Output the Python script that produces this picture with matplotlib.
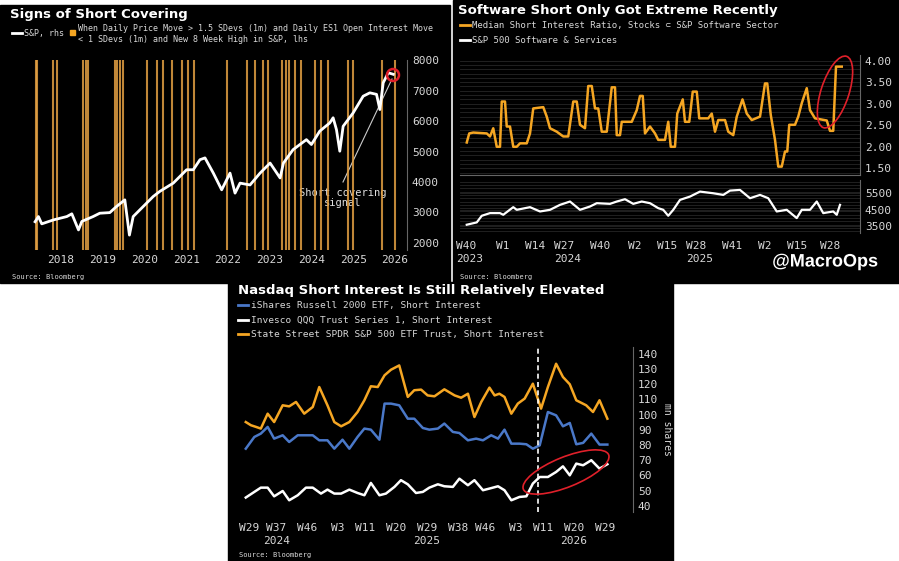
import numpy as np
import matplotlib.pyplot as plt
import matplotlib.patheffects as pe
from matplotlib.patches import Ellipse, Rectangle

# ---- panel 1: S&P with short covering signals ----
spx_year = [2017.88, 2017.96, 2018.04, 2018.32, 2018.64, 2018.76, 2018.92, 2019.00, 2019.27,
            2019.43, 2019.67, 2019.83, 2020.03, 2020.14, 2020.23, 2020.55, 2020.71, 2020.87,
            2021.19, 2021.51, 2021.67, 2021.83, 2021.95, 2022.15, 2022.35, 2022.55, 2022.67,
            2022.79, 2023.03, 2023.27, 2023.51, 2023.75, 2023.83, 2024.06, 2024.38, 2024.50,
            2024.70, 2024.94, 2025.02, 2025.10, 2025.18, 2025.26, 2025.50, 2025.74, 2025.90,
            2026.06, 2026.14, 2026.22, 2026.34, 2026.46]
spx_val = [2690, 2860, 2620, 2750, 2860, 2950, 2420, 2700, 2860, 2970, 2990, 3190, 3410, 2250,
           2860, 3300, 3520, 3690, 3960, 4400, 4400, 4730, 4790, 4290, 3740, 4290, 3630, 3960,
           3900, 4290, 4620, 4130, 4620, 5060, 5390, 5230, 5670, 5940, 6110, 5720, 5010, 5830,
           6270, 6820, 6930, 6880, 6380, 7260, 7590, 7540]
signal_year = [2017.90, 2017.93, 2018.30, 2018.41, 2019.02, 2019.10, 2019.15, 2019.79, 2019.85,
               2019.91, 2019.98, 2020.55, 2020.79, 2020.95, 2021.15, 2021.41, 2021.55, 2021.69,
               2022.47, 2022.95, 2023.15, 2023.35, 2023.47, 2023.79, 2023.88, 2023.97, 2024.10,
               2024.26, 2024.58, 2024.74, 2024.90, 2025.38, 2025.49, 2026.18, 2026.50]
p1_years = list(range(2018, 2027))
p1_yticks = [2000, 3000, 4000, 5000, 6000, 7000, 8000]

# ---- panel 2: software short interest ----
si_week = [-1.3, -0.3, 1.3, 6.7, 8, 9.3, 10.7, 12, 12.7, 14, 14.7, 16, 17.3, 18.7, 20, 22.7, 24,
           25.3, 29.3, 30.7, 32, 34.7, 37.3, 39.3, 41.3, 42.7, 44, 46, 47.3, 48.7, 50, 51.3, 52.7,
           54.7, 56.7, 58, 58.7, 60, 60.7, 64.7, 66.7, 68, 69.1, 70, 72, 74, 75.3, 78, 79.3, 80.3,
           82, 82.9, 85.1, 86, 87.7, 89.1, 90.7, 91.7, 95.3, 96.7, 98, 99.3, 102, 103.3, 105.3,
           106.7, 109, 110.7, 112.7, 116, 118, 118.9, 120.3, 122, 123.3, 124.7, 126, 126.9, 127.7,
           130, 131.3, 132.7, 134.7, 136, 138, 142.7, 144, 145.3, 146.4, 148.7]
si_val = [2.10, 2.31, 2.33, 2.31, 2.24, 2.43, 2.00, 2.00, 3.05, 3.05, 2.47, 2.47, 2.00, 2.00, 2.08,
          2.08, 2.31, 2.89, 2.92, 2.70, 2.43, 2.35, 2.24, 2.24, 3.05, 3.05, 2.51, 2.43, 3.41, 3.41,
          2.89, 2.89, 2.35, 2.35, 3.38, 3.38, 2.27, 2.27, 2.58, 2.58, 2.85, 3.18, 3.18, 2.31, 2.47,
          2.31, 2.16, 2.16, 2.58, 2.00, 2.00, 2.77, 3.10, 2.58, 2.58, 3.28, 3.28, 2.66, 2.66, 2.77,
          2.35, 2.62, 2.62, 2.35, 2.27, 2.70, 3.10, 2.77, 2.62, 2.70, 3.47, 3.47, 2.74, 2.16, 1.54,
          1.54, 1.89, 1.89, 2.51, 2.51, 2.70, 3.01, 3.36, 2.85, 2.66, 2.61, 2.37, 2.37, 3.86, 3.86]
sw_week = [-1.3, 2.7, 4.7, 8, 12, 13.3, 17.3, 18.7, 24, 28, 32, 36, 40, 44, 48, 50.7, 56, 58.7, 62,
           65.3, 68.7, 72, 75.3, 77.3, 79.3, 81.3, 84, 88, 92, 97.3, 101.3, 104, 108, 112, 116,
           119.3, 122.7, 126.7, 130.7, 132.7, 136, 138.7, 141.3, 145.3, 146.7, 148]
sw_val = [3600, 3740, 4140, 4300, 4300, 4200, 4660, 4500, 4660, 4400, 4500, 4800, 5000, 4500, 4700,
          4900, 4860, 5000, 5140, 4860, 5000, 4900, 4600, 4500, 4140, 4500, 5100, 5300, 5600, 5500,
          5400, 5660, 5700, 5200, 5400, 5200, 4400, 4500, 4000, 4500, 4500, 5000, 4300, 4400, 4200,
          4800]
p2_tick_pos = [0, 13, 26, 39, 52, 66, 79, 92, 105, 118, 131, 144]
p2_tick_lab = ['W40\n2023', 'W1', 'W14', 'W27\n2024', 'W40', 'W2', 'W15', 'W28\n2025', 'W41',
               'W2', 'W15', 'W28']

# ---- panel 3: ETF short interest ----
spy_week = [-1.0, 0.5, 2.0, 3.4, 5.4, 7.3, 9.8, 11.7, 13.7, 16.1, 18.6, 20.5, 22.9, 24.9, 26.9,
            29.3, 31.7, 33.7, 35.6, 37.6, 39.6, 41.5, 43.9, 46.4, 48.3, 50.3, 52.2, 54.2, 57.1,
            60.1, 62.0, 64.0, 65.9, 67.9, 70.3, 71.8, 73.2, 74.7, 76.7, 78.6, 80.6, 83.0, 85.4,
            87.4, 89.8, 91.8, 93.8, 95.7, 98.6, 100.6, 102.5, 104.8]
spy_val = [95.1, 93, 91.9, 90.8, 100.6, 95.1, 106.1, 105.4, 108.3, 100.6, 105, 118.1, 106.1, 95.1,
           92.3, 95.1, 101.7, 109.4, 118.6, 118.1, 125.8, 129.5, 132.3, 111.6, 116, 116.4, 112.6,
           112, 116.6, 112.6, 111.1, 113.7, 98.4, 108.3, 117.7, 112.6, 113.7, 111.6, 100.6, 107.2,
           110.5, 120.3, 103.9, 118.1, 133.4, 124.7, 119.9, 109.4, 106.1, 101.7, 109.4, 97.3]
iwm_week = [-1.0, 1.5, 3.4, 5.4, 7.3, 9.8, 11.7, 14.2, 16.6, 18.6, 20.5, 22.9, 24.9, 27.3, 29.3,
            31.7, 33.7, 35.6, 38.1, 39.6, 41.5, 43.9, 46.4, 48.3, 50.8, 52.7, 55.2, 57.1, 59.6,
            61.5, 64.0, 66.4, 68.4, 70.8, 72.8, 74.7, 76.7, 79.1, 81.1, 83.0, 85.0, 87.4, 89.8,
            91.8, 93.8, 95.7, 97.7, 100.1, 102.5, 104.8]
iwm_val = [77.6, 85.3, 87.5, 91.9, 84.2, 86.4, 82, 86.4, 86.4, 86.4, 83.1, 83.1, 77.6, 83.5, 77.6,
           85.3, 90.8, 90.1, 83.5, 107.2, 107.2, 106.1, 97.3, 97.3, 91.2, 90.1, 90.8, 94.1, 88.6,
           87.9, 83.1, 84.2, 83.1, 86.4, 84.2, 90.1, 80.9, 80.9, 80.5, 77.6, 79.8, 101.7, 99.5,
           92.3, 94.5, 80.5, 81.4, 87.5, 80.3, 80.3]
qqq_week = [-1.0, 1.5, 3.4, 5.4, 7.3, 9.8, 11.7, 14.2, 16.6, 18.6, 21.0, 22.9, 24.9, 26.9, 29.3,
            31.7, 33.7, 35.6, 38.1, 40.0, 42.5, 44.4, 46.4, 48.8, 50.8, 52.7, 55.2, 57.1, 59.6,
            61.5, 64.0, 65.9, 68.4, 70.3, 72.8, 74.7, 76.7, 79.1, 81.1, 83.0, 85.0, 87.4, 89.8,
            91.8, 93.8, 95.7, 97.7, 100.1, 102.5, 104.8]
qqq_val = [45.5, 49.2, 52, 52, 46.3, 49.8, 43.7, 47, 52, 52, 48.1, 50.7, 48.1, 48.1, 50.7, 48.5,
           47, 55.1, 47, 48.1, 52.5, 56.9, 54.2, 48.5, 49.2, 52, 54.2, 52.9, 52.5, 57.9, 53.6,
           56.9, 50.3, 51.4, 52.9, 50.3, 43.7, 45.9, 46.3, 54.7, 59, 59, 62.3, 66, 60.1, 67.8,
           66.7, 70, 64.5, 67.4]
p3_tick_pos = [0, 8, 17, 26, 34, 43, 52, 61, 69, 78, 86, 95, 104]
p3_tick_lab = ['W29', 'W37\n2024', 'W46', 'W3', 'W11', 'W20', 'W29\n2025', 'W38', 'W46', 'W3',
               'W11', 'W20\n2026', 'W29']
p3_yticks = list(range(40, 141, 10))

W, H = 899, 561
ORANGE = '#f5a623'
SIGNAL = '#e3a043'
BLUE = '#4a78c8'
MONO = 'DejaVu Sans Mono'
TICK = '#d8d8d8'

fig = plt.figure(figsize=(W / 100, H / 100), dpi=100, facecolor='white')


def box(x0, y0, x1, y1):
    return [x0 / W, 1 - y1 / H, (x1 - x0) / W, (y1 - y0) / H]


def style(ax, size=8):
    ax.set_facecolor('black')
    for s in ['top', 'left', 'bottom']:
        ax.spines[s].set_visible(False)
    ax.spines['right'].set_color('#666666')
    ax.yaxis.tick_right()
    ax.tick_params(colors=TICK, labelsize=size, length=0)
    for lab in ax.get_xticklabels() + ax.get_yticklabels():
        lab.set_fontfamily(MONO)


# overlay for backgrounds and free text, in pixel coords
bg = fig.add_axes([0, 0, 1, 1], zorder=0)
bg.set_xlim(0, W)
bg.set_ylim(H, 0)
bg.axis('off')
bg.add_patch(Rectangle((0, 5), 450, 278, color='black'))
bg.add_patch(Rectangle((453, 0), 446, 283, color='black'))
bg.add_patch(Rectangle((228, 282), 445, 279, color='black'))

# panel 1
bg.text(10, 14, 'Signs of Short Covering', color='white', fontsize=9.5, fontweight='bold', va='center')
bg.plot([12, 22], [33, 33], color='white', lw=2)
bg.text(24, 33, 'S&P, rhs', color=TICK, fontsize=6, family=MONO, va='center')
bg.add_patch(Rectangle((70, 30), 5, 5, color=ORANGE))
bg.text(78, 34, 'When Daily Price Move > 1.5 SDevs (1m) and Daily ES1 Open Interest Move\n'
        '< 1 SDevs (1m) and New 8 Week High in S&P, lhs', color=TICK, fontsize=6, family=MONO,
        va='center', linespacing=1.2)
bg.text(12, 277, 'Source: Bloomberg', color=TICK, fontsize=5, family=MONO, va='center')

ax1 = fig.add_axes(box(33, 60, 407, 250), zorder=1)
style(ax1)
for yr in signal_year:
    ax1.axvline(yr, color=SIGNAL, lw=1.5, alpha=0.85)
ax1.plot(spx_year, spx_val, color='white', lw=2)
ax1.set_xlim(2017.83, 2026.79)
ax1.set_ylim(1760, 8010)
ax1.set_yticks(p1_yticks)
ax1.set_xticks([y + 0.5 for y in p1_years])
ax1.set_xticklabels([str(y) for y in p1_years])
ax1.patch.set_alpha(0)
bg.text(343, 198, 'Short covering\nsignal', color='#e0e0e0', fontsize=7.5, family=MONO,
        ha='center', va='center', linespacing=1.1)
bg.plot([343, 392], [182, 79], color='#cccccc', lw=0.8)

# panel 2
bg.text(458, 10, 'Software Short Only Got Extreme Recently', color='white', fontsize=9.5,
        fontweight='bold', va='center')
bg.plot([460, 470], [25, 25], color=ORANGE, lw=2)
bg.text(472, 25, 'Median Short Interest Ratio, Stocks \u2282 S&P Software Sector', color=TICK,
        fontsize=6.5, family=MONO, va='center')
bg.plot([460, 470], [40, 40], color='white', lw=2)
bg.text(472, 40, 'S&P 500 Software & Services', color=TICK, fontsize=6.5, family=MONO, va='center')
bg.text(460, 277, 'Source: Bloomberg', color=TICK, fontsize=5, family=MONO, va='center')

ax2 = fig.add_axes(box(460, 55, 860, 175), zorder=1)
style(ax2)
ax2.set_yticks(np.arange(1.5, 4.01, 0.5))
ax2.set_yticklabels(['%.2f' % v for v in np.arange(1.5, 4.01, 0.5)], family=MONO)
ax2.set_yticks(np.arange(1.4, 4.1, 0.1), minor=True)
ax2.tick_params(which='minor', length=0)
ax2.grid(which='both', axis='y', color='#262626', lw=0.6)
ax2.spines['bottom'].set_visible(True)
ax2.spines['bottom'].set_color('#666666')
ax2.plot(si_week, si_val, color=ORANGE, lw=1.8)
ax2.set_xlim(-4, 156)
ax2.set_ylim(1.345, 4.13)
ax2.set_xticks([])

ax3 = fig.add_axes(box(460, 180, 860, 233), zorder=1)
style(ax3)
ax3.set_yticks([3500, 4500, 5500])
ax3.set_yticks(np.arange(3200, 6300, 200), minor=True)
ax3.tick_params(which='minor', length=0)
ax3.grid(which='both', axis='y', color='#262626', lw=0.6)
ax3.plot(sw_week, sw_val, color='white', lw=1.6)
ax3.set_xlim(-4, 156)
ax3.set_ylim(3100, 6300)
ax3.set_xticks(p2_tick_pos)
ax3.set_xticklabels(p2_tick_lab, family=MONO, linespacing=1.3)
ax3.tick_params(axis='x', pad=6)
for lab in ax3.get_xticklabels():
    lab.set_verticalalignment('top')
    lab.set_multialignment('left')

# panel 3
bg.text(238, 290, 'Nasdaq Short Interest Is Still Relatively Elevated', color='white',
        fontsize=9.5, fontweight='bold', va='center')
for yy, col, lab in [(305, BLUE, 'iShares Russell 2000 ETF, Short Interest'),
                     (320, 'white', 'Invesco QQQ Trust Series 1, Short Interest'),
                     (334, ORANGE, 'State Street SPDR S&P 500 ETF Trust, Short Interest')]:
    bg.plot([238, 248], [yy, yy], color=col, lw=2)
    bg.text(251, yy, lab, color=TICK, fontsize=6.8, family=MONO, va='center')
bg.text(239, 555, 'Source: Bloomberg', color=TICK, fontsize=5, family=MONO, va='center')

ax4 = fig.add_axes(box(241, 347, 633, 512), zorder=1)
style(ax4)
ax4.plot(spy_week, spy_val, color=ORANGE, lw=1.8)
ax4.plot(iwm_week, iwm_val, color=BLUE, lw=1.8)
ax4.plot(qqq_week, qqq_val, color='white', lw=1.8)
ax4.axvline(84.5, color='white', lw=1.2, ls=(0, (3, 2)))
ax4.set_xlim(-2.4, 112.3)
ax4.set_ylim(36, 144.4)
ax4.set_yticks(p3_yticks)
ax4.set_xticks(p3_tick_pos)
ax4.set_xticklabels(p3_tick_lab, family=MONO, linespacing=1.3)
ax4.tick_params(axis='x', pad=8)
ax4.yaxis.set_label_position('right')
ax4.set_ylabel('mn shares', color=TICK, fontsize=7, family=MONO, rotation=270, labelpad=10)
bg.text(350, 462, 'Nasdaq short still elevated\n(as of 3rd week July)', color='#e8e8e8',
        fontsize=8, family=MONO, ha='center', va='center', linespacing=1.1)
bg.plot([433, 523], [463, 485], color='#cccccc', lw=0.8)

# red highlights and watermark
ov = fig.add_axes([0, 0, 1, 1], zorder=5)
ov.set_xlim(0, W)
ov.set_ylim(H, 0)
ov.axis('off')
ov.add_patch(Ellipse((393, 75), 12, 12, fill=False, ec='#e0202a', lw=1.8))
ov.add_patch(Ellipse((835, 92), 28, 75, angle=18, fill=False, ec='#e0202a', lw=1.2))
ov.add_patch(Ellipse((566, 472), 92, 30, angle=-22, fill=False, ec='#e0202a', lw=1.2))
ov.text(825, 262, '@MacroOps', color='white', fontsize=13, fontweight='bold', ha='center',
        va='center', family='Liberation Sans',
        path_effects=[pe.withStroke(linewidth=2.5, foreground='black')])

fig.savefig('out.png', dpi=100, facecolor='white')
